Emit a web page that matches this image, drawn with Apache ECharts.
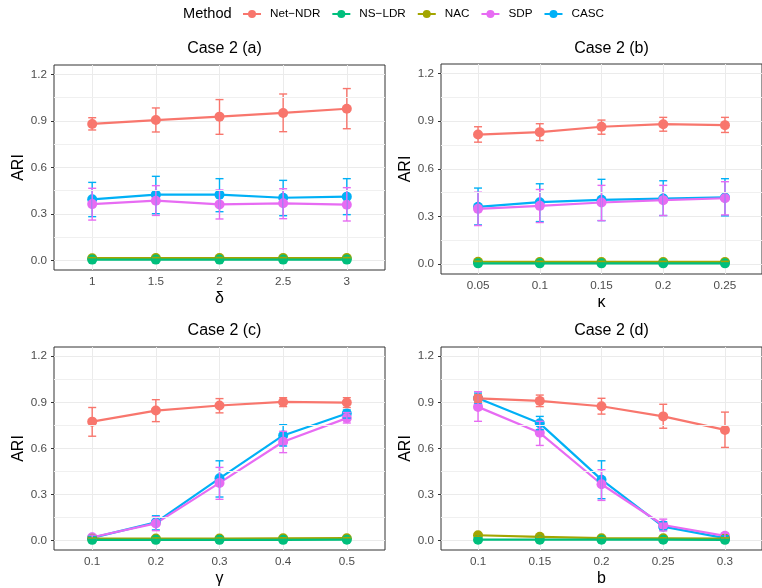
<!DOCTYPE html>
<html>
<head>
<meta charset="utf-8">
<script src="https://cdn.jsdelivr.net/npm/echarts@6/dist/echarts.min.js"></script>
<style>
  html, body { margin: 0; padding: 0; background: #fff; }
  #chart { width: 762px; height: 588px; }
</style>
</head>
<body>
<div id="chart"></div>
<script>
// method names and colours (ggplot default hues)
const methods = ['Net−NDR', 'NS−LDR', 'NAC', 'SDP', 'CASC'];
const colors = ['#F8766D', '#00BF7D', '#A3A500', '#E76BF3', '#00B0F6'];

// x tick labels of each panel
const xLabelsA = ['1', '1.5', '2', '2.5', '3'];
const xLabelsB = ['0.05', '0.1', '0.15', '0.2', '0.25'];
const xLabelsC = ['0.1', '0.2', '0.3', '0.4', '0.5'];
const xLabelsD = ['0.1', '0.15', '0.2', '0.25', '0.3'];

const yTicks = [0, 0.3, 0.6, 0.9, 1.2];
const yMinor = [0.15, 0.45, 0.75, 1.05];

// [mean, lower, upper] per x position
// Case 2 (a)
const aNetNDR = [[0.880, 0.841, 0.920], [0.905, 0.828, 0.983], [0.927, 0.813, 1.037], [0.951, 0.830, 1.073], [0.978, 0.849, 1.108]];
const aNSLDR  = [[0.005, 0.002, 0.008], [0.005, 0.002, 0.008], [0.005, 0.002, 0.008], [0.005, 0.002, 0.008], [0.005, 0.002, 0.008]];
const aNAC    = [[0.014, 0.010, 0.018], [0.015, 0.011, 0.019], [0.015, 0.011, 0.019], [0.015, 0.011, 0.019], [0.015, 0.011, 0.019]];
const aSDP    = [[0.363, 0.260, 0.465], [0.385, 0.290, 0.482], [0.361, 0.267, 0.454], [0.368, 0.269, 0.462], [0.359, 0.254, 0.469]];
const aCASC   = [[0.394, 0.282, 0.503], [0.424, 0.301, 0.542], [0.424, 0.314, 0.527], [0.404, 0.288, 0.516], [0.411, 0.295, 0.527]];
// Case 2 (b)
const bNetNDR = [[0.816, 0.768, 0.865], [0.831, 0.778, 0.884], [0.865, 0.818, 0.907], [0.881, 0.837, 0.924], [0.875, 0.829, 0.924]];
const bNSLDR  = [[0.005, 0.002, 0.008], [0.005, 0.002, 0.008], [0.005, 0.002, 0.008], [0.005, 0.002, 0.008], [0.005, 0.002, 0.008]];
const bNAC    = [[0.015, 0.011, 0.019], [0.014, 0.010, 0.018], [0.014, 0.010, 0.018], [0.014, 0.010, 0.018], [0.014, 0.010, 0.018]];
const bSDP    = [[0.348, 0.243, 0.453], [0.367, 0.262, 0.470], [0.388, 0.274, 0.496], [0.403, 0.306, 0.496], [0.415, 0.310, 0.519]];
const bCASC   = [[0.361, 0.247, 0.479], [0.390, 0.268, 0.506], [0.405, 0.274, 0.534], [0.413, 0.306, 0.525], [0.420, 0.304, 0.538]];
// Case 2 (c)
const cNetNDR = [[0.774, 0.679, 0.866], [0.846, 0.774, 0.917], [0.879, 0.831, 0.924], [0.902, 0.872, 0.930], [0.898, 0.866, 0.930]];
const cNSLDR  = [[0.004, 0.001, 0.007], [0.004, 0.001, 0.007], [0.004, 0.001, 0.007], [0.004, 0.001, 0.007], [0.005, 0.002, 0.008]];
const cNAC    = [[0.012, 0.008, 0.016], [0.013, 0.009, 0.017], [0.013, 0.009, 0.017], [0.014, 0.010, 0.018], [0.015, 0.011, 0.019]];
const cSDP    = [[0.021, 0.010, 0.035], [0.111, 0.064, 0.154], [0.375, 0.268, 0.476], [0.643, 0.572, 0.711], [0.797, 0.765, 0.833]];
const cCASC   = [[0.017, 0.005, 0.030], [0.118, 0.069, 0.161], [0.405, 0.283, 0.519], [0.684, 0.615, 0.754], [0.827, 0.797, 0.850]];
// Case 2 (d)
const dNetNDR = [[0.926, 0.900, 0.950], [0.909, 0.872, 0.947], [0.874, 0.823, 0.926], [0.808, 0.731, 0.887], [0.720, 0.606, 0.836]];
const dNSLDR  = [[0.005, 0.002, 0.008], [0.005, 0.002, 0.008], [0.005, 0.002, 0.008], [0.005, 0.002, 0.008], [0.004, 0.001, 0.007]];
const dNAC    = [[0.034, 0.028, 0.040], [0.024, 0.019, 0.029], [0.015, 0.011, 0.019], [0.014, 0.010, 0.018], [0.013, 0.009, 0.017]];
const dSDP    = [[0.870, 0.776, 0.969], [0.701, 0.619, 0.776], [0.366, 0.261, 0.461], [0.101, 0.062, 0.139], [0.030, 0.015, 0.047]];
const dCASC   = [[0.926, 0.895, 0.960], [0.763, 0.722, 0.808], [0.396, 0.272, 0.519], [0.090, 0.069, 0.122], [0.015, 0.005, 0.030]];

const panels = [
  { title: 'Case 2 (a)', xName: 'δ', labels: xLabelsA, data: [aNetNDR, aNSLDR, aNAC, aSDP, aCASC],
    grid: { left: 54, top: 65, width: 331, height: 205 } },
  { title: 'Case 2 (b)', xName: 'κ', labels: xLabelsB, data: [bNetNDR, bNSLDR, bNAC, bSDP, bCASC],
    grid: { left: 441, top: 64, width: 331, height: 210 } },
  { title: 'Case 2 (c)', xName: 'γ', labels: xLabelsC, data: [cNetNDR, cNSLDR, cNAC, cSDP, cCASC],
    grid: { left: 54, top: 347, width: 331, height: 205 } },
  { title: 'Case 2 (d)', xName: 'b', labels: xLabelsD, data: [dNetNDR, dNSLDR, dNAC, dSDP, dCASC],
    grid: { left: 441, top: 347, width: 331, height: 205 } }
];

const font = 'Liberation Sans, Arial, Helvetica, sans-serif';
const xPos = [1, 2, 3, 4, 5];

function errRender(params, api) {
  const x = api.value(0);
  const lo = api.coord([x, api.value(1)]);
  const hi = api.coord([x, api.value(2)]);
  const w = 4;
  const style = { stroke: api.visual('color'), lineWidth: 1.4 };
  return {
    type: 'group',
    children: [
      { type: 'line', shape: { x1: lo[0], y1: lo[1], x2: hi[0], y2: hi[1] }, style: style },
      { type: 'line', shape: { x1: lo[0] - w, y1: lo[1], x2: lo[0] + w, y2: lo[1] }, style: style },
      { type: 'line', shape: { x1: hi[0] - w, y1: hi[1], x2: hi[0] + w, y2: hi[1] }, style: style }
    ]
  };
}

const grids = [], xAxes = [], yAxes = [], titles = [], series = [];

panels.forEach((p, gi) => {
  grids.push(Object.assign({ show: true, borderColor: '#333333', borderWidth: 1, backgroundColor: '#fff' }, p.grid));
  titles.push({
    text: p.title,
    left: p.grid.left + p.grid.width / 2,
    top: (gi < 2 ? 65 : 347) - 29,
    textAlign: 'center',
    textStyle: { fontFamily: font, fontSize: 16, fontWeight: 'normal', color: '#000' }
  });
  xAxes.push({
    type: 'value', gridIndex: gi, min: 0.4, max: 5.6,
    name: p.xName, nameLocation: 'middle', nameGap: 21,
    nameTextStyle: { fontFamily: font, fontSize: 16, color: '#000' },
    axisLine: { show: false },
    axisTick: { show: true, length: 3, lineStyle: { color: '#333' }, customValues: xPos },
    axisLabel: {
      customValues: xPos, margin: 6, color: '#4D4D4D', fontFamily: font, fontSize: 11.7,
      formatter: v => p.labels[Math.round(v) - 1]
    },
    splitLine: { show: true, lineStyle: { color: '#EBEBEB', width: 1 } }
  });
  yAxes.push({
    type: 'value', gridIndex: gi, min: -0.062, max: 1.26,
    name: 'ARI', nameLocation: 'middle', nameGap: 24, nameRotate: 90,
    nameTextStyle: { fontFamily: font, fontSize: 16, color: '#000' },
    axisLine: { show: false },
    axisTick: { show: true, length: 3, lineStyle: { color: '#333' }, customValues: yTicks },
    axisLabel: {
      customValues: yTicks, margin: 7, color: '#4D4D4D', fontFamily: font, fontSize: 11.7,
      formatter: v => v.toFixed(1)
    },
    splitLine: { show: true, lineStyle: { color: '#EBEBEB', width: 1 } }
  });
  // minor horizontal grid lines
  series.push({
    type: 'line', xAxisIndex: gi, yAxisIndex: gi, data: [], silent: true,
    markLine: {
      silent: true, symbol: 'none', label: { show: false },
      lineStyle: { color: '#F0F0F0', width: 1, type: 'solid' },
      data: yMinor.map(v => ({ yAxis: v }))
    }
  });
  // draw CASC first, Net-NDR last
  for (let m = methods.length - 1; m >= 0; m--) {
    const vals = p.data[m];
    series.push({
      name: methods[m], type: 'line', xAxisIndex: gi, yAxisIndex: gi,
      data: vals.map((d, i) => [xPos[i], d[0]]),
      color: colors[m], symbol: 'circle', symbolSize: 10, showSymbol: true,
      lineStyle: { width: 2.2 }, itemStyle: { color: colors[m] },
      z: 2, animation: false
    });
    series.push({
      name: methods[m], type: 'custom', xAxisIndex: gi, yAxisIndex: gi,
      renderItem: errRender, encode: { x: 0, y: [1, 2] },
      data: vals.map((d, i) => [xPos[i], d[1], d[2]]),
      itemStyle: { color: colors[m] }, z: 3, animation: false
    });
  }
});

const chart = echarts.init(document.getElementById('chart'), null, { renderer: 'canvas' });
chart.setOption({
  animation: false,
  backgroundColor: '#fff',
  title: titles,
  graphic: [{
    type: 'text', left: 183, top: 6,
    style: { text: 'Method', fontFamily: font, fontSize: 14.6, fill: '#000' }
  }],
  legend: {
    data: methods, left: 242, top: 8, padding: 0, itemWidth: 18, itemHeight: 10, itemGap: 11,
    textStyle: { fontFamily: font, fontSize: 11.7, color: '#000', padding: [0, 0, 0, 4] }
  },
  grid: grids,
  xAxis: xAxes,
  yAxis: yAxes,
  series: series
});
</script>
</body>
</html>
